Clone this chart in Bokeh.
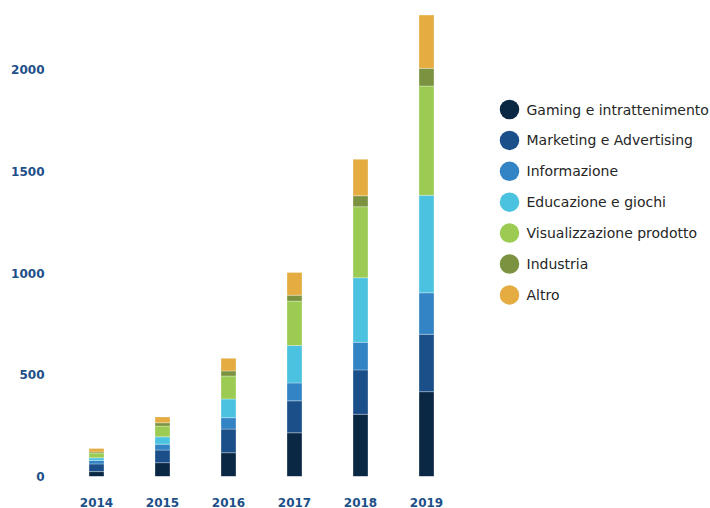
from bokeh.plotting import figure
from bokeh.models import ColumnDataSource, FactorRange, Range1d, FixedTicker
from bokeh.layouts import row
from bokeh.embed import file_html
from bokeh.resources import INLINE
from bokeh.core.properties import value

years = ["2014", "2015", "2016", "2017", "2018", "2019"]

gaming = [24, 68, 117, 215, 306, 417]
marketing = [38, 62, 116, 157, 218, 282]
informazione = [17, 29, 56, 88, 136, 204]
educazione = [13, 36, 92, 184, 317, 479]
visualizzazione = [23, 53, 113, 218, 349, 537]
industria = [6, 16, 25, 29, 54, 87]
altro = [17, 29, 62, 112, 179, 262]

series_names = [
    "Gaming e intrattenimento",
    "Marketing e Advertising",
    "Informazione",
    "Educazione e giochi",
    "Visualizzazione prodotto",
    "Industria",
    "Altro",
]
series_values = [gaming, marketing, informazione, educazione, visualizzazione, industria, altro]
colors = ["#0a2744", "#1a4f8a", "#3384c5", "#4bc3e0", "#9bcb52", "#7b9341", "#e4ac41"]
y_ticks = [0, 500, 1000, 1500, 2000]

keys = [f"s{i}" for i in range(len(series_names))]
data = {"year": years}
for k, v in zip(keys, series_values):
    data[k] = v
source = ColumnDataSource(data)

axis_color = "#1d4f88"

p = figure(
    x_range=FactorRange(*years),
    y_range=Range1d(0, 2315),
    frame_width=396,
    frame_height=471,
    min_border_left=63,
    min_border_right=10,
    min_border_top=5,
    min_border_bottom=32,
    output_backend="svg",
    toolbar_location=None,
    align="start",
)
p.vbar_stack(keys, x="year", width=0.227, color=colors, source=source,
             line_color="white", line_alpha=0.5, line_width=0.6)

p.xgrid.visible = False
p.ygrid.visible = False
p.outline_line_color = None

for ax in (p.xaxis[0], p.yaxis[0]):
    ax.axis_line_color = None
    ax.major_tick_line_color = None
    ax.minor_tick_line_color = None
    ax.major_tick_out = 0
    ax.major_tick_in = 0
    ax.minor_tick_out = 0
    ax.major_label_text_font = "DejaVu Sans"
    ax.major_label_text_font_style = "bold"
    ax.major_label_text_font_size = "12px"
    ax.major_label_text_color = axis_color

p.yaxis.ticker = FixedTicker(ticks=y_ticks)
p.yaxis.major_label_standoff = 19
p.xaxis.major_label_standoff = 21
p.xaxis.major_label_text_line_height = 0.9

# Legend panel
leg_idx = list(range(len(series_names)))
leg_source = ColumnDataSource(dict(idx=leg_idx, name=series_names, color=colors,
                                   mx=[40] * len(series_names), tx=[57] * len(series_names)))
leg = figure(
    x_range=Range1d(0, 241),
    y_range=Range1d(13.074, -3.366),
    frame_width=241,
    frame_height=508,
    min_border=0,
    x_axis_location=None,
    y_axis_location=None,
    output_backend="svg",
    toolbar_location=None,
    align="start",
)
leg.xgrid.visible = False
leg.ygrid.visible = False
leg.outline_line_color = None
leg.scatter(x="mx", y="idx", size=19.5, marker="circle", color="color", line_color=None, source=leg_source)
leg.text(x="tx", y="idx", text="name", source=leg_source,
         text_font=value("DejaVu Sans"), text_font_size="14px",
         text_color="#262626", text_baseline="middle", text_align="left")

layout = row(p, leg)
open("out.html", "w").write(file_html(layout, INLINE))
